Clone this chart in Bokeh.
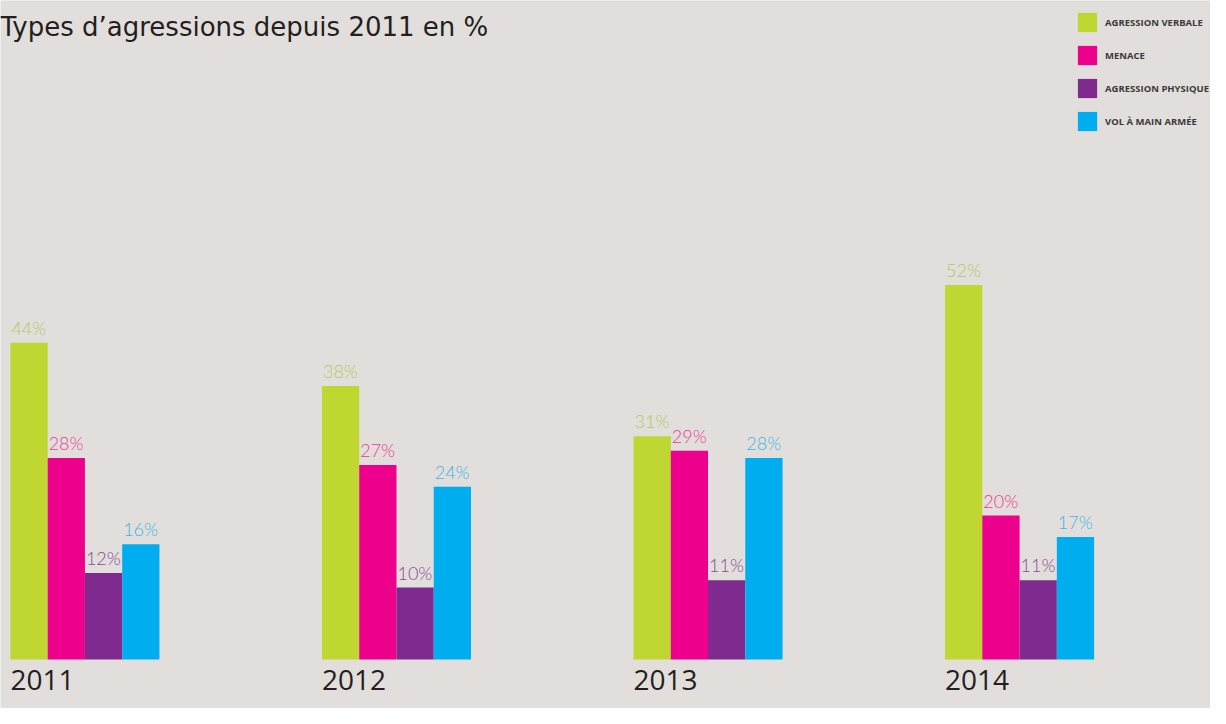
from bokeh.plotting import figure
from bokeh.models import ColumnDataSource, Range1d, Label
from bokeh.embed import file_html
from bokeh.resources import INLINE
from bokeh.core.properties import value

# ---- data ----
years = ["2011", "2012", "2013", "2014"]
series_names = ["AGRESSION VERBALE", "MENACE", "AGRESSION PHYSIQUE", "VOL À MAIN ARMÉE"]
agression_verbale = [44, 38, 31, 52]
menace = [28, 27, 29, 20]
agression_physique = [12, 10, 11, 11]
vol_main_armee = [16, 24, 28, 17]
series_values = [agression_verbale, menace, agression_physique, vol_main_armee]

bar_colors = ["#bfd730", "#ec008c", "#7f2a8e", "#00aeef"]
label_colors = ["#b7c862", "#ea3c96", "#8c4a9a", "#3db7e9"]
title_text = "Types d’agressions depuis 2011 en %"

# ---- layout ----
W, H = 1210, 708
BG = "#e2dedb"
px_x = 311.55          # pixels per group
bar_px = 37.26         # bar width in pixels
bw = bar_px / px_x     # bar width in data units
x_start = -(9.9 + 2 * bar_px) / px_x
px_y = 7.2             # pixels per percent
base_px = 659          # baseline from top of figure

p = figure(width=W, height=H, output_backend="svg", toolbar_location=None,
           x_range=Range1d(x_start, x_start + W / px_x),
           y_range=Range1d(-(H - base_px) / px_y, base_px / px_y),
           min_border=0, background_fill_color=BG, border_fill_color=BG,
           outline_line_color=None)
p.axis.visible = False
p.grid.visible = False

offsets = [-1.5 * bw, -0.5 * bw, 0.5 * bw, 1.5 * bw]
label_font = value("Lato Light, Lato")

for s, (name, vals, bc, lc, off) in enumerate(zip(series_names, series_values, bar_colors, label_colors, offsets)):
    xs = [i + off for i in range(len(years))]
    src = ColumnDataSource(dict(
        x=xs, top=vals,
        lx=[x - bw / 2 for x in xs],
        txt=[f"{v}%" for v in vals],
    ))
    p.vbar(x="x", top="top", bottom=0, width=bw, source=src,
           fill_color=bc, line_color=None, legend_label=name)
    p.text(x="lx", y="top", text="txt", source=src, x_offset=1, y_offset=-4,
           text_align="left", text_baseline="bottom",
           text_font=label_font, text_font_size="18px", text_color=lc)

# year labels
ysrc = ColumnDataSource(dict(x=[i - 2 * bw for i in range(len(years))],
                             y=[0] * len(years), t=years))
p.text(x="x", y="y", text="t", source=ysrc, y_offset=10,
       text_align="left", text_baseline="top",
       text_font=value("Open Sans"), text_font_size="28px", text_color="#231f20")

# title
p.add_layout(Label(x=0, y=H - 11, x_units="screen", y_units="screen",
                   text=title_text, text_font="DejaVu Sans", text_font_size="26px",
                   text_color="#231f20", text_baseline="top", text_align="left"))

# legend
lg = p.legend[0]
lg.location = (1075, H - 133)
lg.padding = 0
lg.margin = 0
lg.spacing = 9
lg.glyph_width = 24
lg.glyph_height = 24
lg.label_height = 24
lg.label_standoff = 6
lg.border_line_color = None
lg.background_fill_alpha = 0
lg.label_text_font = "Open Sans"
lg.label_text_font_size = "9.5px"
lg.label_text_font_style = "bold"
lg.label_text_color = "#3a3a3a"

open("out.html", "w").write(file_html(p, INLINE))
